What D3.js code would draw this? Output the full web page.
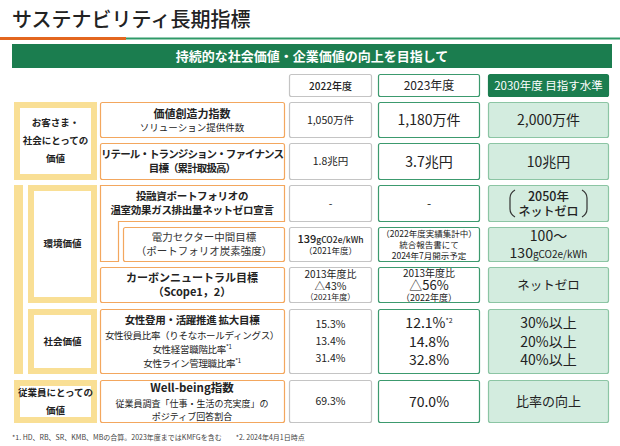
<!DOCTYPE html>
<html><head><meta charset="utf-8">
<script src="https://cdn.jsdelivr.net/npm/d3@7"></script>
<style>body{margin:0;background:#fff}text{font-family:"Noto Sans CJK JP","Noto Sans",sans-serif}</style>
</head><body><svg id="c" width="620" height="446"></svg>
<script>
const title = "サステナビリティ長期指標";
const banner = "持続的な社会価値・企業価値の向上を目指して";
const years = ["2022年度", "2023年度", "2030年度 目指す水準"];
const categories = [
  {name:["お客さま・","社会にとっての","価値"], rows:[0,1]},
  {name:["環境価値"], rows:[2,3,4]},
  {name:["社会価値"], rows:[5]},
  {name:["従業員にとっての","価値"], rows:[6]}
];
// each line: array of segments [text, size, weight, sup]
const labels = [
  [[["価値創造力指数",11,700]],[["ソリューション提供件数",9.5,400]]],
  [[["リテール・トランジション・ファイナンス",10.5,700]],[["目標（累計取扱高）",10.5,700]]],
  [[["投融資ポートフォリオの",10.5,700]],[["温室効果ガス排出量ネットゼロ宣言",10.5,700]]],
  [[["電力セクター中間目標",10.5,400]],[["（ポートフォリオ炭素強度）",10.5,400]]],
  [[["カーボンニュートラル目標",11,700]],[["（Scope1，2）",11,700]]],
  [[["女性登用・活躍推進 拡大目標",10.5,700]],[["女性役員比率（りそなホールディングス）",9.5,400]],[["女性経営職階比率",9.5,400],["*1",6,400,1]],[["女性ライン管理職比率",9.5,400],["*1",6,400,1]]],
  [[["Well-being指数",11.5,700]],[["従業員調査「仕事・生活の充実度」の",9,400]],[["ポジティブ回答割合",9,400]]]
];
const values2022 = [
  [[["1,050万件",10.5,400]]],
  [[["1.8兆円",10.5,400]]],
  [[["-",10.5,400]]],
  [[["139",11,500],["gCO2e/kWh",8.5,500]],[["（2021年度）",8.5,400]]],
  [[["2013年度比",10,400]],[["△43%",10.5,400]],[["（2021年度）",8,400]]],
  [[["15.3%",10.5,400]],[["13.4%",10.5,400]],[["31.4%",10.5,400]]],
  [[["69.3%",10.5,400]]]
];
const values2023 = [
  [[["1,180万件",14,400]]],
  [[["3.7兆円",14,400]]],
  [[["-",12,400]]],
  [[["（2022年度実績集計中）",8.5,400]],[["統合報告書にて",8.5,400]],[["2024年7月開示予定",8.5,400]]],
  [[["2013年度比",10,400]],[["△56%",13,400]],[["（2022年度）",9,400]]],
  [[["12.1%",14,400],["*2",7,400,1]],[["14.8%",14,400]],[["32.8%",14,400]]],
  [[["70.0%",14,400]]]
];
const targets2030 = [
  [[["2,000万件",14,400]]],
  [[["10兆円",14,400]]],
  [[["2050年",12.5,500]],[["ネットゼロ",12,500]]],
  [[["100～",14,400]],[["130",14,400],["gCO2e/kWh",10,400]]],
  [[["ネットゼロ",12.5,400]]],
  [[["30%以上",14,400]],[["20%以上",14,400]],[["40%以上",14,400]]],
  [[["比率の向上",13,400]]]
];
const footnote = "*1. HD、RB、SR、KMB、MBの合算。2023年度まではKMFGを含む　　*2. 2024年4月1日時点";

const svg = d3.select("#c");
const rowY = [[102,138],[143,180],[185,222],[227,262],[267,303],[309,374],[380,423]];
const cols = {cat:[14,97], lab:[100,285], c22:[289,372], c23:[378,480], c30:[488,609]};
const C = {green:"#1b7d4f", gfill:"#d3ecdf", gborder:"#8cc5a4", gline:"#3c9a6e", gray:"#c4c4c4", orange:"#f3a75e", yellow:"#f9df95", title:"#e3661f"};

svg.append("text").attr("x",12).attr("y",27).attr("font-size",20).attr("font-weight",500).attr("fill","#222").text(title);
svg.append("rect").attr("x",0).attr("y",37).attr("width",126).attr("height",3).attr("fill",C.title);
svg.append("rect").attr("x",126).attr("y",37.5).attr("width",494).attr("height",2).attr("fill","#2f9a68");
svg.append("rect").attr("x",12).attr("y",44).attr("width",600).attr("height",24).attr("fill",C.green);
svg.append("text").attr("x",312).attr("y",61).attr("text-anchor","middle").attr("font-size",13).attr("font-weight",700).attr("fill","#fff").text(banner);

function box(x0,x1,y0,y1,stroke,fill,sw){
  svg.append("rect").attr("x",x0+0.5).attr("y",y0+0.5).attr("width",x1-x0-1).attr("height",y1-y0-1)
    .attr("rx",2).attr("fill",fill).attr("stroke",stroke).attr("stroke-width",sw||1.2);
}
function lines(cx,cy,ls,color,gap,ls2){
  const hs = ls.map(l=>d3.max(l,s=>s[1])*(gap||1.35));
  const tot = d3.sum(hs); let y = cy - tot/2;
  ls.forEach((l,i)=>{
    const t = svg.append("text").attr("x",cx).attr("y",y+hs[i]/2+d3.max(l,s=>s[1])*0.36).attr("text-anchor","middle").attr("fill",color||"#222");
    if(ls2) t.attr("letter-spacing",ls2);
    l.forEach(s=>{ const sp=t.append("tspan").attr("font-size",s[1]).attr("font-weight",s[2]).text(s[0]); if(s[3]) sp.attr("baseline-shift","super"); });
    y += hs[i];
  });
}
const mid = a=>(a[0]+a[1])/2;

[["c22",C.gray,"#fff","#222"],["c23",C.gline,"#fff","#222"],["c30",C.green,C.green,"#fff"]].forEach((d,i)=>{
  box(cols[d[0]][0],cols[d[0]][1],74,97,d[1],d[2]);
  svg.append("text").attr("x",mid(cols[d[0]])).attr("y",89.5).attr("text-anchor","middle").attr("font-size",i==0?10:i==1?12:11.5).attr("font-weight",i==0?500:400).attr("fill",d[3]).text(years[i]);
});

svg.append("rect").attr("x",14).attr("y",185).attr("width",9).attr("height",189).attr("fill",C.yellow);
categories.forEach((c,i)=>{
  const y0=rowY[c.rows[0]][0], y1=rowY[c.rows[c.rows.length-1]][1];
  const x0 = (i==1||i==2)?28:14;
  svg.append("rect").attr("x",x0).attr("y",y0).attr("width",97-x0).attr("height",y1-y0).attr("fill",C.yellow);
  svg.append("rect").attr("x",x0+6).attr("y",y0+6).attr("width",97-x0-12).attr("height",y1-y0-12).attr("fill","#fff");
  lines(mid([x0,97]),mid([y0,y1]),c.name.map(n=>[[n,9.5,700]]),"#222",1.9);
});

labels.forEach((l,i)=>{
  const [y0,y1]=rowY[i];
  if(i==2){
    svg.append("path").attr("d",d3.line()([[100.5,185.5],[284.5,185.5],[284.5,221.5],[118.5,221.5],[118.5,261.5],[100.5,261.5]])+"Z")
      .attr("fill","#fff").attr("stroke",C.orange).attr("stroke-width",1.2);
    lines(192,203,l,"#222",1.35,-0.3);
  } else if(i==3){
    box(123,285,y0,y1,C.orange,"#fff"); lines(204,mid(rowY[i]),l,"#333");
  } else {
    box(100,285,y0,y1,C.orange,"#fff"); lines(192,mid(rowY[i]),l,"#222",i>=5?1.5:1.35,i==1?-0.9:i==5?-0.3:0);
  }
});
values2022.forEach((v,i)=>{ box(289,372,rowY[i][0],rowY[i][1],C.gray,"#fff"); lines(mid(cols.c22),mid(rowY[i]),v,"#222",i==5?1.6:i==4?1.15:1.25); });
values2023.forEach((v,i)=>{ box(378,480,rowY[i][0],rowY[i][1],C.gline,"#fff"); lines(mid(cols.c23),mid(rowY[i]),v,"#222",i==5?1.35:i==3?1.3:i==4?1.1:1.05); });
targets2030.forEach((v,i)=>{ box(488,609,rowY[i][0],rowY[i][1],C.gborder,C.gfill); lines(mid(cols.c30),mid(rowY[i]),v,"#222",i==5?1.35:i==2?1.25:1.2); });
const by0=rowY[2][0]+5, by1=rowY[2][1]-5;
svg.append("path").attr("d",`M${515},${by0} q-5,3 -5,8 v${by1-by0-16} q0,5 5,8`).attr("fill","none").attr("stroke","#333").attr("stroke-width",1.2);
svg.append("path").attr("d",`M${582},${by0} q5,3 5,8 v${by1-by0-16} q0,5 -5,8`).attr("fill","none").attr("stroke","#333").attr("stroke-width",1.2);

svg.append("text").attr("x",12).attr("y",440).attr("font-size",7).attr("fill","#444").text(footnote);
</script></body></html>
